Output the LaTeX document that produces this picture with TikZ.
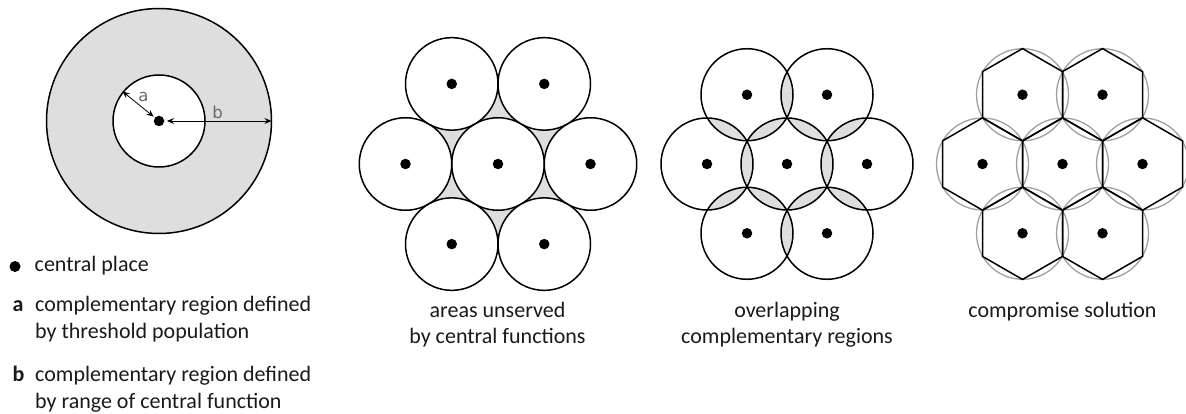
\documentclass[tikz,border=0pt]{standalone}
\usepackage{fontspec}
\setmainfont{Carlito}
\newfontfamily\labfont{DejaVu Sans}
\usetikzlibrary{arrows.meta}
\definecolor{lgray}{HTML}{DEDEDE}
\definecolor{cgray}{HTML}{A0A0A0}
\definecolor{tgray}{HTML}{6A6A6A}
\definecolor{ink}{HTML}{1A1A1A}
\tikzset{
  ringline/.style={line width=1.5pt},
  cdot/.style={circle, fill=black, minimum size=10.5pt, inner sep=0pt},
  legtxt/.style={anchor=base west, inner sep=0pt, text=ink, font=\fontsize{22pt}{26pt}\selectfont},
  legkey/.style={anchor=base west, inner sep=0pt, text=ink, font=\fontsize{22pt}{26pt}\selectfont\bfseries},
  captxt/.style={anchor=base, inner sep=0pt, text=ink, font=\fontsize{22pt}{26pt}\selectfont},
  dimlab/.style={anchor=base, inner sep=0pt, text=tgray, font=\labfont\fontsize{16.5pt}{18pt}\selectfont},
  dimarrow/.style={line width=0.8pt, {Stealth[length=7pt,width=6pt,inset=2.5pt]}-{Stealth[length=7pt,width=6pt,inset=2.5pt]}},
  hexline/.style={line width=1.5pt, line join=miter},
  greyring/.style={line width=1.3pt, draw=cgray}
}
\begin{document}
\begin{tikzpicture}[x=1pt,y=-1pt]
\useasboundingbox (0,0) rectangle (1186,414);

% ---------- left: single central place ----------
\node[circle, draw, ringline, fill=lgray, minimum size=225pt, inner sep=0pt] (outer) at (159,121) {};
\node[circle, draw, ringline, fill=white, minimum size=92pt, inner sep=0pt] (inner) at (159,121) {};
\node[cdot] (cp) at (159,121) {};
\draw[dimarrow, shorten >=1.5pt] (inner.141) -- (cp.141);
\draw[dimarrow, shorten <=2.5pt, shorten >=0.8pt] (cp.east) -- (outer.east);
\node[dimlab] (la) at (143.5,102) {a};
\node[dimlab] (lb) at (217.5,119) {b};

% ---------- legend ----------
\node[circle, fill=black, minimum size=11pt, inner sep=0pt] (ldot) at (15,266.5) {};
\node[legtxt] (l0) at (34.5,272) {central place};
\node[legkey] (ka) at (12.5,311) {a};
\node[legtxt] (la1) at (35,311) {complementary region defined};
\node[legtxt] (la2) at (35,338) {by threshold population};
\node[legkey] (kb) at (12.5,381) {b};
\node[legtxt] (lb1) at (35,381) {complementary region defined};
\node[legtxt] (lb2) at (35,408) {by range of central function};

% ---------- diagram 1: areas unserved ----------
\fill[lgray] (405.5,164) -- (451.75,83.9) -- (544.25,83.9) -- (590.5,164)
  -- (544.25,244.1) -- (451.75,244.1) -- cycle;
\foreach \a/\b/\n in {0/0/c,-1/0/l,1/0/r,-0.5/-0.866/tl,0.5/-0.866/tr,-0.5/0.866/bl,0.5/0.866/br}{
  \node[circle, draw, ringline, fill=white, minimum size=92.5pt, inner sep=0pt] (u\n) at ({498+\a*92.5},{164+\b*92.5}) {};
  \node[cdot] (ud\n) at (u\n) {};
}
\node[captxt] (cap1a) at (497.5,317) {areas unserved};
\node[captxt] (cap1b) at (497.5,343) {by central functions};

% ---------- diagram 2: overlapping ----------
\foreach \a/\b/\n in {0/0/c,-1/0/l,1/0/r,-0.5/-0.866/tl,0.5/-0.866/tr,-0.5/0.866/bl,0.5/0.866/br}{
  \coordinate (v\n) at ({787+\a*80},{164+\b*80});
}
\foreach \p/\q in {c/l,c/r,c/tl,c/tr,c/bl,c/br,tl/tr,tl/l,tr/r,l/bl,r/br,bl/br}{
  \begin{scope}
    \clip (v\p) circle[radius=46];
    \fill[lgray] (v\q) circle[radius=46];
  \end{scope}
}
\foreach \n in {c,l,r,tl,tr,bl,br}{
  \draw[ringline] (v\n) circle[radius=46];
  \node[cdot] (vd\n) at (v\n) {};
}
\node[captxt] (cap2a) at (787,317) {overlapping};
\node[captxt] (cap2b) at (787,343) {complementary regions};

% ---------- diagram 3: compromise solution ----------
\foreach \a/\b/\n in {0/0/c,-1/0/l,1/0/r,-0.5/-0.866/tl,0.5/-0.866/tr,-0.5/0.866/bl,0.5/0.866/br}{
  \coordinate (w\n) at ({1062.5+\a*80},{164+\b*80});
}
\foreach \n in {c,l,r,tl,tr,bl,br}{
  \draw[greyring] (w\n) circle[radius=46];
}
\foreach \n in {c,l,r,tl,tr,bl,br}{
  \draw[hexline] (w\n) +(90:46.19) -- +(30:46.19) -- +(-30:46.19) -- +(-90:46.19)
    -- +(-150:46.19) -- +(150:46.19) -- cycle;
}
\foreach \n in {c,l,r,tl,tr,bl,br}{
  \node[cdot] (wd\n) at (w\n) {};
}
\node[captxt] (cap3) at (1062.5,317) {compromise solution};

\end{tikzpicture}
\end{document}
